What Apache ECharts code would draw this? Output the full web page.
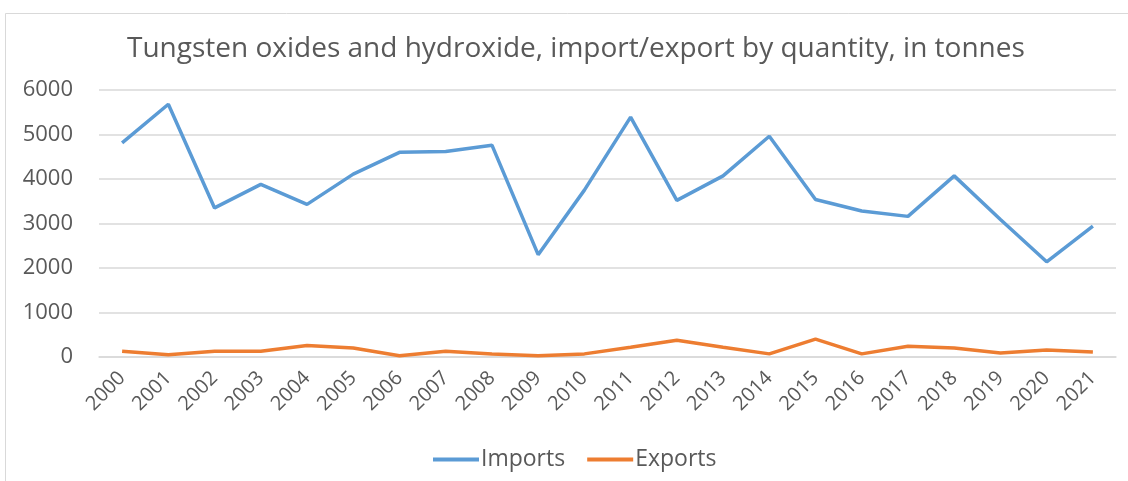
<!DOCTYPE html>
<html>
<head>
<meta charset="utf-8">
<script src="https://cdn.jsdelivr.net/npm/echarts@6/dist/echarts.min.js"></script>
<style>html,body{margin:0;padding:0;background:#fff;}#c{width:1128px;height:481px;}</style>
</head>
<body>
<div id="c"></div>
<script>
const years = ['2000','2001','2002','2003','2004','2005','2006','2007','2008','2009','2010','2011','2012','2013','2014','2015','2016','2017','2018','2019','2020','2021'];
const imports = [4810, 5680, 3350, 3880, 3430, 4110, 4600, 4620, 4760, 2300, 3750, 5390, 3520, 4070, 4960, 3540, 3280, 3160, 4070, 3090, 2140, 2940];
const exports_ = [130, 50, 130, 130, 260, 200, 30, 130, 70, 30, 70, 220, 375, 220, 70, 400, 70, 240, 200, 90, 160, 110];
const yTicks = [0, 1000, 2000, 3000, 4000, 5000, 6000];

const FONT = '"Open Sans", sans-serif';
const chart = echarts.init(document.getElementById('c'));
chart.setOption({
  animation: false,
  backgroundColor: '#fff',
  graphic: [{
    type: 'rect', shape: {x: 5.5, y: 13.5, width: 1140, height: 500},
    style: {fill: 'none', stroke: '#D9D9D9', lineWidth: 1}, silent: true, z: -1
  }],
  title: {
    text: 'Tungsten oxides and hydroxide, import/export by quantity, in tonnes',
    left: 122, top: 30,
    textStyle: {fontFamily: FONT, fontSize: 28, fontWeight: 'normal', color: '#595959'}
  },
  legend: {
    bottom: 5, left: 428,
    itemWidth: 46, itemHeight: 4, itemGap: 22,
    icon: 'rect',
    textStyle: {fontFamily: FONT, fontSize: 23, color: '#595959', padding: [0, 0, 0, -3]},
    data: ['Imports', 'Exports']
  },
  grid: {left: 99, right: 12, top: 90, bottom: 124, containLabel: false},
  xAxis: {
    type: 'category', data: years, boundaryGap: true,
    axisLine: {show: true, lineStyle: {color: '#D9D9D9', width: 1.5}},
    axisTick: {show: false},
    axisLabel: {rotate: 45, fontFamily: FONT, fontSize: 20, color: '#595959', margin: 18, interval: 0}
  },
  yAxis: {
    type: 'value', min: yTicks[0], max: yTicks[yTicks.length - 1], interval: 1000,
    axisLine: {show: false}, axisTick: {show: false},
    splitLine: {lineStyle: {color: '#D9D9D9', width: 1.5}},
    axisLabel: {fontFamily: FONT, fontSize: 22, color: '#595959', margin: 26,
                formatter: v => String(v)}
  },
  series: [
    {name: 'Imports', type: 'line', data: imports, symbol: 'none',
     lineStyle: {color: '#5B9BD5', width: 3.5}, itemStyle: {color: '#5B9BD5'}},
    {name: 'Exports', type: 'line', data: exports_, symbol: 'none',
     lineStyle: {color: '#ED7D31', width: 3.5}, itemStyle: {color: '#ED7D31'}}
  ]
});
</script>
</body>
</html>
